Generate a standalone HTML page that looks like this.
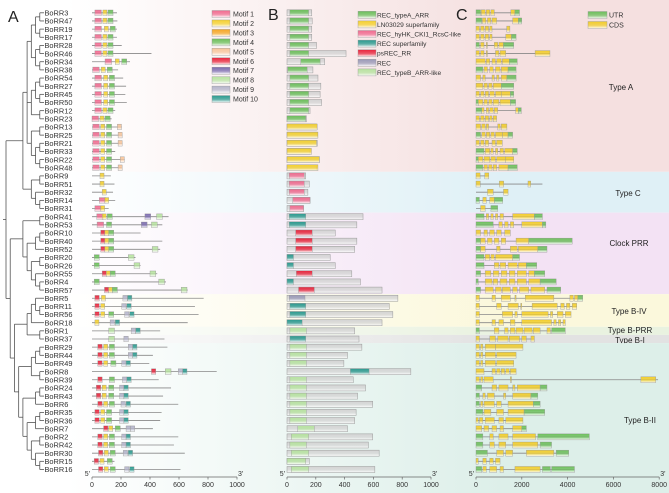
<!DOCTYPE html>
<html><head><meta charset="utf-8">
<style>
html,body{margin:0;padding:0;background:#fff;}
svg{display:block;font-family:"Liberation Sans",sans-serif;}
</style></head>
<body>
<svg id="fig" width="669" height="493" viewBox="0 0 669 493" xmlns="http://www.w3.org/2000/svg">
<defs id="defs"></defs>
<g id="bands"></g>
<g id="tree"></g>
<g id="pa"></g>
<g id="pb"></g>
<g id="pc"></g>
<g id="leg"></g>
<g id="ax"></g>
<text x="8" y="22" font-size="16" fill="#222">A</text>
<text x="268" y="20" font-size="16" fill="#222">B</text>
<text x="456" y="20" font-size="16" fill="#222">C</text>
</svg>
<script>
const genes=["BoRR3","BoRR47","BoRR19","BoRR17","BoRR28","BoRR46","BoRR34","BoRR38","BoRR54","BoRR27","BoRR45","BoRR50","BoRR12","BoRR23","BoRR13","BoRR25","BoRR21","BoRR33","BoRR22","BoRR48",
"BoRR9","BoRR51","BoRR32","BoRR14","BoRR31",
"BoRR41","BoRR53","BoRR10","BoRR40","BoRR52","BoRR20","BoRR26","BoRR55","BoRR4","BoRR57",
"BoRR5","BoRR11","BoRR56","BoRR18","BoRR1","BoRR37",
"BoRR29","BoRR44","BoRR49","BoRR8","BoRR39","BoRR24","BoRR43","BoRR6","BoRR35","BoRR36","BoRR7","BoRR2","BoRR42","BoRR30","BoRR15","BoRR16"];
const proteinLengths=[172,175,172,172,205,410,262,180,215,235,230,240,160,135,205,210,210,160,225,205,
130,155,145,160,115,
528,485,335,485,470,300,335,450,510,660,
770,710,735,660,470,500,
520,420,395,860,460,545,490,595,480,470,420,595,565,640,155,610];
const motifs=["1:20 2:75 4:110","1:20 2:75 4:110","1:20 2:85 4:125","1:20 2:75 4:110","1:20 2:75 4:110","1:20 2:75 4:110","1:90 2:160 4:205","1:5 2:63 4:105","1:20 2:80 4:120","1:20 2:80 4:120","1:20 2:80 4:120","1:20 2:80 4:120","1:20 2:75 4:110","1:0 2:55 4:90",
"1:5 2:60 4:100 5:175","1:5 2:60 4:100 5:180","1:5 2:60 4:100 5:180","1:5 2:60 4:100","1:5 2:60 4:100 5:195","1:5 2:60 4:100 5:180",
"2:55","2:55","2:70","1:50 2:87","1:20 2:59",
"1:33 2:70 4:105 7:365 8:445","1:35 4:100 7:340 8:410","6:60 2:88 4:115","6:60 2:88 4:115","6:60 2:88 4:115 8:415","4:15 8:250","4:15 8:290","6:70 2:98 4:125 8:400","4:15 8:460","6:86 2:114 4:140 8:615",
"6:20 2:65 9:213 10:245","6:20 2:60 9:205 10:240","6:20 2:60 4:115 9:225 10:260","2:20 9:125 10:160","8:115 9:270 10:302","8:115 9:220",
"6:40 2:80 4:120 9:250 10:280","6:40 2:80 4:120 9:250 10:280","6:40 2:80 4:130 9:205 10:235","6:410 8:505 9:595 10:625","6:40 4:120 9:210 10:240",
"6:30 2:70 4:115 9:190 10:220","6:30 2:70 4:115 9:190 10:220","6:40 2:80 4:120 9:200 10:235","6:20 2:60 4:100 9:190 10:220","6:20 2:60 4:100 9:190 10:220","6:80 2:115 4:160 9:235 9:265",
"6:40 2:80 4:120 9:205 10:235","6:40 2:80 4:120 9:205 10:235","6:45 2:85 4:125 9:215 10:250","6:15 2:55 4:105","6:45 2:85 4:125 9:225 10:260"];
const domains=["a:20-150","a:20-150","a:20-150","a:20-150","a:20-150","a:20-150","a:95-230","a:5-140","a:20-150","a:20-150","a:20-150","a:20-150","a:20-150","a:0-130",
"l:0-210","l:0-215","l:0-205","l:0-170","l:0-225","l:0-215",
"h:15-120","h:15-120","h:15-120","h:40-160","h:20-115",
"s:15-130","s:15-130","p:60-175","p:60-175","p:60-175","s:0-45","s:0-45","p:65-175","s:0-45","p:80-190",
"r:15-125","s:20-130","s:20-130","s:0-105","b:20-135","s:20-130",
"b:20-135","b:20-135","b:20-135","s:440-570","b:20-135","b:20-135","b:20-135","b:20-135","b:20-135","b:20-135","b:75-190","b:30-150","b:20-135","b:30-150","b:0-130","b:30-150"];
const exons=["u0-2 c2.3-4 c4.5-6 c6.5-8 c15.2-17 u17-19","u0-2.5 c2.8-4.3 c5-6.5 c7-9 c16-18.5 u18.5-20","c0-1.5 c2-3.5 c4-5.5 c6-7 c13.4-14.8","c0-1.5 c2-3.5 c4-5.5 c6-7 c13-15.5 u15.5-17.5","u0-1.5 c2-3.5 c4.5-5 c8-9.5 c10-12 u12-16.5","c0-1.5 c2-3.5 c4.5-5 c8.5-10 c10.5-13 c25.8-32.3","c0-4 c4.5-6 c7-8.5 c9-11 c11.5-14.5 u14.5-18","u0-3 c3.5-5 c6-7.5 c8.5-10.5 c11-14 u14-17.5","c0-2 c3-4 c7-8 c9-10 c11-13.5 u13.5-17.5","c0-3 c3.5-5 c5.5-7 c7.5-11 u11-16.5","c0-1.5 c2-3.5 c4-5.5 c6-8 c8.5-11 c11-15 u15-16.5","u0-1 c1-3 c3.5-5 c5.5-7 c7.5-10 c10.5-15 u15-17.3","u0-2.5 c2.5-3.5 c4.5-5.5 c6-7.5 c8-9.5 c17.3-18.5 u18.5-19.8","c0-1.5 c2-3.5 c4-5.5 c6-7 c7.5-9",
"c0-2 c2.5-4 c4.5-5.5 c9.5-10.5 c11-13.5","u0-2 c2.5-4 c4.5-6 c6.5-8 c8.5-11.5 c11.5-14 u14-16","c0-1.5 c2-3.5 c4-5.5 c7-8.5 c9-11.5","u0-3.5 c4-6 c6.5-7.5 c8.5-9.5 c10.5-12 c12.5-16 u16-18","u0-1 c1-3 c3.5-6 c6.5-8.5 c9-13 c13-16.5","u0-3 c3.5-5 c5.5-7 c7.5-9 c10-14 u14-18",
"c0-1.8 c3.8-5.6","c0-1.9 c10.2-12.1 c22.7-23.9 L29","c5-7.5 c12-14","u0-1.5 c3-4.5 c6-8 u8-11.7","c2-4 u6.5-9.5",
"u0-3.5 c4.5-5.5 c6.5-7.5 c8.5-9.5 c10.5-12 c16-25.5 u25.5-29","u0-7.5 c10-11.5 c12.5-14 c15-16.5 c20-29 u29-30.5","c0-2 c3.5-5 c6-8 c9-11 c12.5-15","u0-2 c2-4 c5-7 c8-10 c11-13 c17.5-23 u23-42","u0-2 c2-4 c9-10.5 c15-18 c18.5-27 u27-31","u0-3.5 c4-6 c6.5-8 c8.5-16 u16-19","u0-3.5 c8-10 c10.5-13 c14-18 c18.5-22 u22-26.5","u0-2 c4-6.5 c7.5-10 c11-13.5 c14.5-17 c18-22 c23-25.5 u25.5-30","u0-1 c4-7 c7.5-9.5 c10.5-13.5 c14.5-17 c18-22 c23-28 u28-35","u0-2 c4-7.5 c8.5-11 c11.5-15 c16-18 c19-23 c24-30 u31-37",
"c0-1.5 c7-8.5 c11-15 c17-17.5 c21.5-34 c41-42.5 c43-44.5 u44.5-46.6","c0-1.5 c9-11 c14-18.5 c19.5-20 c24.5-35.5 c37-38.5 c39.5-41 c42-44","c0-1.5 c11.5-16 c17-18 c20-31.5 c32.5-33.5 c35.5-38 c39-41.5","c0-1.5 c7-8.5 c10-12 c15-17 c20-33 c34-35 c36-37 c38-39","u0-1.5 c8-10 c12.5-14 c15-17 c17.5-20.5 c21-24.5 c25-28 c31-32.5 u33-39","c0-1.5 c6-8.5 c9.5-14 c14.5-19 c20-22 c24-25.5",
"c0-1.5 c2-3 c4-8.5 c8.5-20.5","c0-1.5 c2-3 c4-8.5 c9-17.5","c0-1.5 c2-3 c4-8.5 c9-16.5","c0-3.5 c7-8.5 c9-10.5 c11-12.5 c13-14.5 c15-17.5","c0-1.5 c2-3 c3.5-7.5 c15-15.5 c72-78.5 L79.5","u0-2.5 c7-9 c10-14 c16-17 c18-28 u28-31","u0-1.5 c3-4 c5-8 c12-13 c16-24 u24-27","u0-1.5 c2-3 c3.5-8 c9-11 c14-25 u25-28","u0-3 c3.5-6.5 c9-12 c14-21 u21-30","c0-1 c1.5-3 c4-8 c10-12 c13-20.5","c0-2.5 c3.5-5.5 c7-9 c10.5-12 c16-20 u20-22","u0-3 c6-7.5 c10-14 c16-26 u27-49.5","u0-3 c6-8 c10-13 c16-27 u28-33","u0-5 c9-12 c13-16 c22-34 u35-40.5","c0-1 c3-4.5 c6-7.5 c8.5-10.5","u0-2.5 c3-4.5 c6-9 c10.5-12 c17-28 u29-32.5 u33-43"];
const groups=[["Type A",0,19,"#f5e0e0",621,87],["Type C",20,24,"#dff0f6",628,193],["Clock PRR",25,34,"#f3e2f4",629,243],["Type B-IV",35,38,"#fbf8dc",629,311],["Type B-PRR",39,39,"#e9f2e0",630,330],["Type B-I",40,40,"#e2e2e2",630,340],["Type B-II",41,56,"#ddefe9",640,420]];
const cladeA=[[[[0,1],[2,3]],[[4,5],[6,7]]],[[[8,9],[10,11]],[12,13]],[[14,15],[[16,17],[18,19]]]];
const cladeC=[[20,21],[22,[23,24]]];
const cladePRR=[[25,26],[[[27,28],29],[[30,31],[32,[33,34]]]]];
const cladeBX=[[[35,[36,37]],38],[39,40]];
const cladeBII=[[[[41,42],43],[44,45]],[[[46,47],48],[[[49,50],51],[[52,53],[54,[55,56]]]]]];
const treeShape=[[cladeA,cladeC],[cladePRR,[cladeBX,cladeBII]]];
const motifNames=["Motif 1","Motif 2","Motif 3","Motif 4","Motif 5","Motif 6","Motif 7","Motif 8","Motif 9","Motif 10"];
const motifColors=["#f06a8f","#f5d12e","#f5a623","#6cbf5b","#f7c49a","#e8243c","#7b6bb0","#b7e3a0","#b4b4ca","#2a9a8f"];
const motifWidths=[45,28,28,35,28,30,40,40,30,30];
const domainKeys=["a","l","h","s","p","r","b"];
const domainNames=["REC_typeA_ARR","LN03029 superfamily","REC_hyHK_CKI1_RcsC-like","REC superfamily","psREC_RR","REC","REC_typeB_ARR-like"];
const domainColors=["#6cbf5b","#f5d12e","#f06a8f","#2a9a8f","#e8243c","#9a9ab8","#b7e3a0"];
const aTicks=[0,200,400,600,800,1000];
const cTicks=[0,2000,4000,6000,8000];

const NS="http://www.w3.org/2000/svg";
function mk(tag,attrs,parent){const e=document.createElementNS(NS,tag);for(const k in attrs)e.setAttribute(k,attrs[k]);parent.appendChild(e);return e;}
const rowY=i=>12.8+i*8.155;
const xA=v=>92+v*0.145, xB=v=>287+v*0.144, xC=v=>476+v*0.0229;
const defs=document.getElementById('defs');
function grad(id,c){const g=mk('linearGradient',{id:id,x1:0,y1:0,x2:0,y2:1},defs);mk('stop',{offset:0,'stop-color':c},g);mk('stop',{offset:0.55,'stop-color':c,'stop-opacity':0.75},g);mk('stop',{offset:1,'stop-color':'#fff','stop-opacity':0.9},g);}
motifColors.forEach((c,i)=>grad('m'+i,c));
domainColors.forEach((c,i)=>grad('d'+i,c));
grad('gray','#d4d4d4');grad('utr','#6cbf5b');grad('cds','#f2cd2a');

// bands
const bands=document.getElementById('bands');
groups.forEach((g,gi)=>{
 const hg=mk('linearGradient',{id:'bg'+gi,x1:0,y1:0,x2:1,y2:0},defs);
 mk('stop',{offset:0.1,'stop-color':g[3],'stop-opacity':0},hg);
 mk('stop',{offset:0.75,'stop-color':g[3],'stop-opacity':1},hg);
 const y1=g[1]===0?0:(rowY(g[1])+rowY(g[1]-1))/2;
 const y2=g[2]===56?493:(rowY(g[2])+rowY(g[2]+1))/2;
 const r=mk('rect',{x:0,y:y1,width:669,height:y2-y1,fill:'url(#bg'+gi+')'},bands);
 
 
 const t=mk('text',{x:g[4],y:g[5]+3,'font-size':8,'text-anchor':'middle',fill:'#222'},bands);
 t.textContent=g[0];
 
 
});

// tree
const tree=document.getElementById('tree');
function hgt(n){return typeof n==='number'?0:Math.max(...n.map(hgt))+1;}
const step=(44-6)/hgt(treeShape);
function layout(n){ if(typeof n==='number') return {y:rowY(n),x:44};
 const ch=n.map(layout);const x=44-hgt(n)*step;
 const ys=ch.map(c=>c.y);
 mk('line',{x1:x,x2:x,y1:Math.min(...ys),y2:Math.max(...ys),stroke:'#555','stroke-width':0.8},tree);
 ch.forEach(c=>{mk('line',{x1:x,x2:c.x,y1:c.y,y2:c.y,stroke:'#555','stroke-width':0.8},tree);});
 return {y:(Math.min(...ys)+Math.max(...ys))/2,x:x};}
const rootNode=layout(treeShape);
mk('line',{x1:3,x2:rootNode.x,y1:rootNode.y,y2:rootNode.y,stroke:'#555','stroke-width':0.8},tree);

// rows
const pa=document.getElementById('pa'),pb=document.getElementById('pb'),pc=document.getElementById('pc');
genes.forEach((gname,i)=>{
 const y=rowY(i);
 const t=mk('text',{x:44.5,y:y+2.7,'font-size':7.4,fill:'#333'},pa);t.textContent=gname;
 
 
 const L=proteinLengths[i];
 const ln=mk('line',{x1:xA(0),x2:xA(L),y1:y,y2:y,stroke:'#888','stroke-width':0.8},pa);
 
 
 motifs[i].split(' ').forEach(tok=>{const ms=tok.split(':').map(Number);const k=ms[0]-1;
  const r=mk('rect',{x:xA(ms[1]),y:y-2.8,width:motifWidths[k]*0.145,height:5.6,fill:'url(#m'+k+')',stroke:'#999','stroke-width':0.4},pa);
  
  });
 const box=mk('rect',{x:xB(0),y:y-3,width:L*0.144,height:6,fill:'url(#gray)',stroke:'#999','stroke-width':0.5},pb);
 
 
 const dp=domains[i].split(':');const dr2=dp[1].split('-').map(Number);const di=domainKeys.indexOf(dp[0]);
 const dr=mk('rect',{x:xB(dr2[0]),y:y-3,width:(dr2[1]-dr2[0])*0.144,height:6,fill:'url(#d'+di+')',stroke:'#999','stroke-width':0.4},pb);
 
 
 let end=0;const ex=[];
 exons[i].split(' ').forEach(tk=>{if(tk[0]==='L'){end=Math.max(end,+tk.slice(1)*100);return;}
  const se=tk.slice(1).split('-').map(v=>+v*100);ex.push([tk[0],se[0],se[1]]);end=Math.max(end,se[1]);});
 const cl=mk('line',{x1:xC(0),x2:xC(end),y1:y,y2:y,stroke:'#888','stroke-width':0.8},pc);
 
 
 ex.forEach((e,j)=>{const r=mk('rect',{x:xC(e[1]),y:y-3,width:Math.max(1,(e[2]-e[1])*0.0229),height:6,fill:e[0]==='u'?'url(#utr)':'url(#cds)',stroke:'#999','stroke-width':0.4},pc);
  
  });
});

// legends
const leg=document.getElementById('leg');
motifNames.forEach((n,k)=>{const y=14+k*9.45;
 const r=mk('rect',{x:212,y:y-3.5,width:18,height:7,fill:'url(#m'+k+')',stroke:'#999','stroke-width':0.4},leg);
 
 
 const t=mk('text',{x:233,y:y+2.5,'font-size':7,fill:'#333'},leg);t.textContent=n;
 
 });
domainNames.forEach((n,k)=>{const y=14.8+k*9.6;
 const r=mk('rect',{x:358,y:y-3.5,width:18,height:7,fill:'url(#d'+k+')',stroke:'#999','stroke-width':0.4},leg);
 
 
 const t=mk('text',{x:377,y:y+2.5,'font-size':6.6,fill:'#333'},leg);t.textContent=n;
 
 });
[["UTR","utr",15],["CDS","cds",25]].forEach(it=>{
 const r=mk('rect',{x:588,y:it[2]-3.5,width:19,height:7,fill:'url(#'+it[1]+')',stroke:'#999','stroke-width':0.4},leg);
 
 
 const t=mk('text',{x:609,y:it[2]+2.5,'font-size':7,fill:'#333'},leg);t.textContent=it[0];
 
 });

// axes
const axg=document.getElementById('ax');
function drawAxis(fx,ticks,maxv,id){const y=477;
 const l=mk('line',{x1:fx(0),x2:fx(maxv),y1:y,y2:y,stroke:'#666','stroke-width':0.7},axg);
 
 
 ticks.forEach(v=>{mk('line',{x1:fx(v),x2:fx(v),y1:y,y2:y+2.5,stroke:'#666','stroke-width':0.7},axg);
  const t=mk('text',{x:fx(v),y:y+10,'font-size':7,'text-anchor':'middle',fill:'#333'},axg);t.textContent=v;
  
  });
 const a=mk('text',{x:fx(0)-2,y:y-1,'font-size':7,'text-anchor':'end',fill:'#333'},axg);a.textContent="5'";
 
 
 const b=mk('text',{x:fx(maxv)+1,y:y-1,'font-size':7,fill:'#333'},axg);b.textContent="3'";
 
 }
drawAxis(xA,aTicks,1000,'a');drawAxis(xB,aTicks,1000,'b');drawAxis(xC,cTicks,8000,'c');
</script>
</body></html>
